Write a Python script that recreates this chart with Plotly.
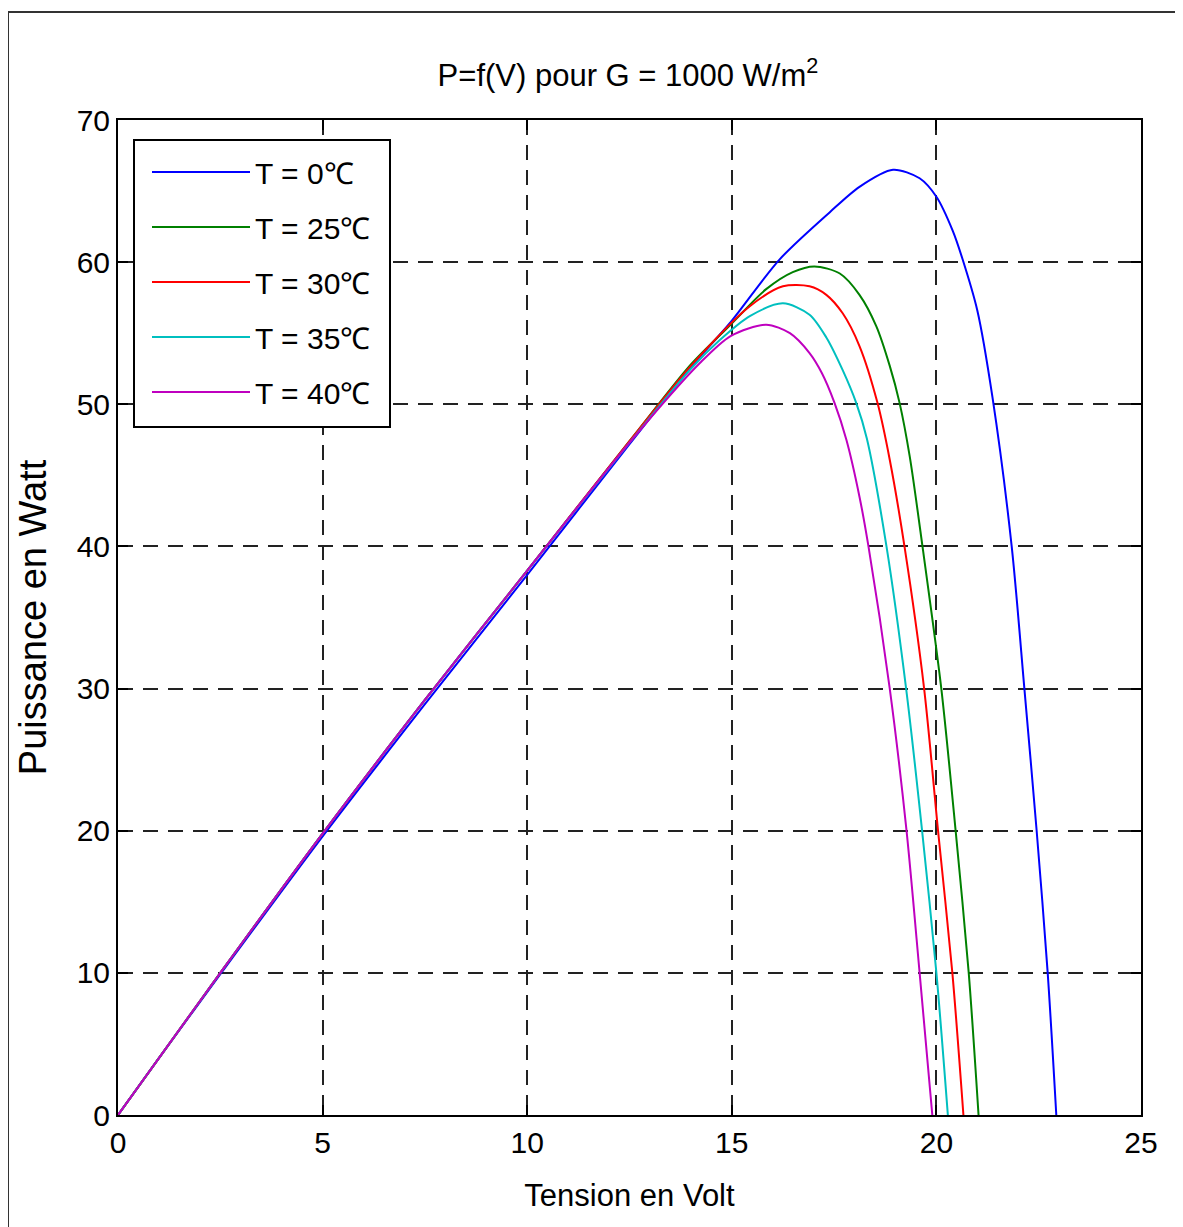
import plotly.graph_objects as go

# ---- data ----
labels = ["T = 0℃", "T = 25℃", "T = 30℃", "T = 35℃", "T = 40℃"]
colors = ["#0000ff", "#008000", "#ff0000", "#00bfbf", "#bf00bf"]

V_0 = [0, 1, 2.5, 5, 7.5, 10, 12.5, 14, 14.95, 16.17, 17.39, 18.12, 18.94, 19.59, 20.0, 20.4, 20.64, 21.0, 21.37, 21.84, 22.15, 22.45, 22.72, 22.93]
P_0 = [0, 4.0, 9.9, 19.6, 28.9, 38.0, 47.2, 52.6, 55.7, 60.2, 63.5, 65.3, 66.5, 65.9, 64.6, 62.2, 60.2, 56.6, 50.5, 40.0, 30.0, 20.0, 10.0, 0]

V_25 = [0, 1, 2.5, 5, 7.5, 10, 12.5, 14, 14.97, 15.84, 16.49, 17.02, 17.64, 18.12, 18.53, 18.86, 19.10, 19.35, 19.66, 20.12, 20.47, 20.79, 21.03]
P_25 = [0, 4.0, 10.0, 19.8, 29.2, 38.3, 47.4, 52.8, 55.6, 58.1, 59.3, 59.7, 59.2, 57.7, 55.5, 52.7, 50.1, 46.3, 40.0, 30.0, 20.0, 10.0, 0]

V_30 = [0, 1, 2.5, 5, 7.5, 10, 12.5, 14, 15.44, 16.25, 16.9, 17.31, 17.71, 18.12, 18.56, 18.86, 19.22, 19.70, 20.04, 20.39, 20.66]
P_30 = [0, 4.0, 10.0, 19.8, 29.2, 38.3, 47.4, 52.7, 56.9, 58.3, 58.3, 57.7, 56.4, 54.1, 50.1, 46.1, 40.0, 30.0, 20.0, 10.0, 0]

V_35 = [0, 1, 2.5, 5, 7.5, 10, 12.5, 14, 14.70, 15.44, 16.25, 16.90, 17.31, 17.71, 18.04, 18.30, 18.78, 19.26, 19.65, 20.0, 20.28]
P_35 = [0, 4.0, 10.0, 19.8, 29.2, 38.3, 47.3, 52.5, 54.5, 56.2, 57.1, 56.3, 54.7, 52.4, 50.1, 47.6, 40.0, 30.0, 20.0, 10.0, 0]

V_40 = [0, 1, 2.5, 5, 7.5, 10, 12.5, 14.22, 14.97, 15.84, 16.42, 16.90, 17.20, 17.51, 17.80, 18.12, 18.34, 18.86, 19.27, 19.59, 19.90]
P_40 = [0, 4.0, 10.0, 19.8, 29.2, 38.3, 47.3, 52.9, 54.8, 55.6, 55.0, 53.6, 52.2, 50.1, 47.5, 43.5, 40.0, 30.0, 20.0, 10.0, 0]

x_ticks = [0, 5, 10, 15, 20, 25]
y_ticks = [0, 10, 20, 30, 40, 50, 60, 70]

series_V = [V_0, V_25, V_30, V_35, V_40]
series_P = [P_0, P_25, P_30, P_35, P_40]

FONT = "Liberation Sans, Arial, sans-serif"

# page has an 8px body margin; figure sized to fit the window
W, H = 1175, 1219
OFF = 8
PL, PR, PT, PB = 118, 1141, 120, 1115  # plot area in page pixels
pw = PR - PL
ph = PB - PT


def px_x(p):
    return (p - PL) / pw


def px_y(p):
    return (PB - p) / ph


fig = go.Figure()
for i, (lab, col, vv, pp) in enumerate(zip(labels, colors, series_V, series_P)):
    fig.add_trace(go.Scatter(
        x=vv, y=pp, mode="lines", name=lab,
        line=dict(color=col, width=2, shape="spline", smoothing=0.8),
        legendgroup=f"g{i}",
    ))

axis_common = dict(
    showline=True, linecolor="black", linewidth=2, mirror="allticks",
    ticks="inside", ticklen=10, tickwidth=1.5, tickcolor="black",
    showgrid=True, gridcolor="#222222", gridwidth=2, griddash="15px,10px",
    zeroline=False,
    tickfont=dict(family=FONT, size=30, color="black"),
)

fig.update_layout(
    width=W, height=H,
    margin=dict(l=PL - OFF, r=W + OFF - PR, t=PT - OFF, b=H + OFF - PB, autoexpand=False),
    paper_bgcolor="white", plot_bgcolor="white",
    title=dict(text="P=f(V) pour G = 1000 W/m<sup>2</sup>",
               x=(628 - OFF) / W, xanchor="center", y=1 - (75 - OFF) / H, yanchor="middle",
               font=dict(family=FONT, size=31, color="black")),
    xaxis=dict(range=[0, 25], tickvals=x_ticks, **axis_common,
               title=dict(text="Tension en Volt", standoff=26,
                          font=dict(family=FONT, size=31, color="black"))),
    yaxis=dict(range=[0, 70], tickvals=y_ticks, **axis_common,
               title=dict(text="Puissance en Watt", standoff=18,
                          font=dict(family=FONT, size=38, color="black"))),
    legend=dict(x=px_x(147), y=px_y(146), xanchor="left", yanchor="top",
                bgcolor="rgba(0,0,0,0)", borderwidth=0,
                font=dict(family=FONT, size=30, color="black"),
                itemwidth=98, tracegroupgap=13),
    showlegend=True,
)

# legend box (drawn behind the legend entries, above the curves)
fig.add_shape(type="rect", xref="paper", yref="paper",
              x0=px_x(134), x1=px_x(390), y0=px_y(427), y1=px_y(140),
              line=dict(color="black", width=2), fillcolor="white", layer="above")

# outer figure frame
fig.add_shape(type="rect", xref="paper", yref="paper",
              x0=px_x(8), x1=1.2, y0=-0.3, y1=px_y(12),
              line=dict(color="#333333", width=2), fillcolor="rgba(0,0,0,0)", layer="below")

fig.write_html("out.html")
